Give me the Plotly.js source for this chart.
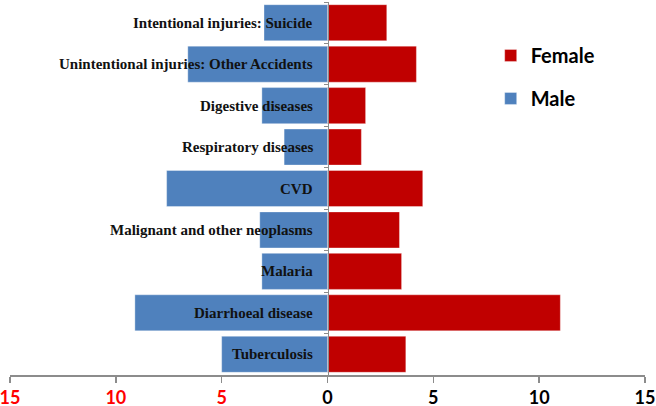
<!DOCTYPE html>
<html>
<head>
<meta charset="utf-8">
<script src="https://cdn.plot.ly/plotly-3.0.1.min.js"></script>
<style>html,body{margin:0;padding:0;background:#fff;}#chart{width:656px;height:406px;}</style>
</head>
<body>
<div id="chart"></div>
<script>
const categories = ["Tuberculosis", "Diarrhoeal disease", "Malaria", "Malignant and other neoplasms", "CVD", "Respiratory diseases", "Digestive diseases", "Unintentional injuries: Other Accidents", "Intentional injuries: Suicide"];
const maleValues = [5.0, 9.1, 3.1, 3.2, 7.6, 2.05, 3.1, 6.6, 3.0];
const femaleValues = [3.7, 11.0, 3.5, 3.4, 4.5, 1.6, 1.8, 4.2, 2.8];
const xTickVals = [-15, -10, -5, 0, 5, 10, 15];
const xTickText = ["15", "10", "5", "0", "5", "10", "15"];
const xTickColors = ["#ff0000", "#ff0000", "#ff0000", "#000000", "#000000", "#000000", "#000000"];

const traces = [
  {
    type: "bar", orientation: "h", name: "Female", legendgroup: "f",
    y: categories, x: femaleValues,
    marker: {color: "#C00000", line: {color: "rgba(255,255,255,0.35)", width: 1}},
    hoverinfo: "x+y"
  },
  {
    type: "bar", orientation: "h", name: "Male", legendgroup: "m",
    y: categories, x: maleValues.map(v => -v),
    marker: {color: "#4F81BD", line: {color: "rgba(255,255,255,0.35)", width: 1}},
    hoverinfo: "x+y"
  }
];

const labelAnnotations = categories.map(c => ({
  x: 0, y: c, xref: "x", yref: "y",
  text: c, showarrow: false,
  xanchor: "right", yanchor: "middle", xshift: -13,
  font: {family: "'Liberation Serif', 'Times New Roman', serif", size: 15, color: "#111", weight: "bold"}
}));

const layout = {
  width: 656, height: 406,
  margin: {l: 10, r: 11, t: 2, b: 31},
  paper_bgcolor: "#fff", plot_bgcolor: "#fff",
  barmode: "relative", bargap: 0.13,
  showlegend: true,
  legend: {
    x: 0.757, y: 0.909, xanchor: "left", yanchor: "top",
    traceorder: "grouped", tracegroupgap: 14,
    font: {family: "Lato, 'Open Sans', sans-serif", size: 20, color: "#000", weight: "bold"},
    bgcolor: "rgba(0,0,0,0)"
  },
  annotations: labelAnnotations,
  xaxis: {
    range: [-15, 15], tickvals: xTickVals,
    ticktext: xTickText.map((t, i) => '<span style="color:' + xTickColors[i] + '">' + t + '</span>'),
    ticklabeloverflow: "allow",
    showgrid: false, zeroline: false,
    showline: true, linecolor: "#8c8c8c", linewidth: 1.5,
    ticks: "outside", ticklen: 6, tickcolor: "#8c8c8c", tickwidth: 1.5,
    tickfont: {family: "Lato, 'Open Sans', sans-serif", size: 18, color: "#000", weight: "bold"},
    fixedrange: true
  },
  yaxis: {
    type: "category", anchor: "free", position: 0.5,
    showgrid: false, zeroline: false,
    showline: true, linecolor: "#8c8c8c", linewidth: 1,
    ticks: "outside", ticklen: 4, tickcolor: "#8c8c8c", tickson: "boundaries",
    showticklabels: false,
    fixedrange: true
  }
};

Plotly.newPlot("chart", traces, layout, {displayModeBar: false, staticPlot: true});
</script>
</body>
</html>
